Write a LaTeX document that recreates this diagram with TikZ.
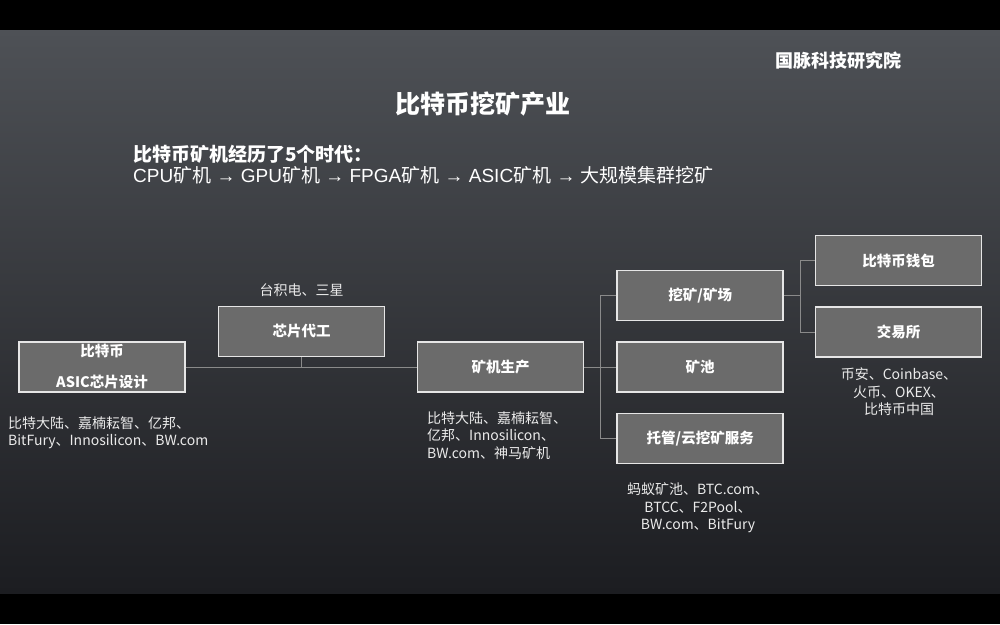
\documentclass[tikz,border=0pt]{standalone}
\usepackage{fontspec}
\setmainfont{Noto Sans CJK SC}
\newfontfamily\latinfont{Liberation Sans}
\newcommand{\lat}[1]{{\latinfont #1}}
\usetikzlibrary{positioning,calc}
\definecolor{bgtop}{HTML}{4E5156}
\definecolor{bgbot}{HTML}{1C1D21}
\definecolor{boxfill}{HTML}{6B6B6B}
\definecolor{boxline}{HTML}{E6E6E6}
\definecolor{linkgray}{HTML}{8A8A8A}

\begin{document}
\begin{tikzpicture}[x=1pt, y=-1pt,
  stage/.style={draw=boxline, line width=1.6pt, fill=boxfill, minimum width=166pt, minimum height=50pt, font=\bfseries\fontsize{14.5}{17}\selectfont, text=white, align=center},
  note/.style={font=\fontsize{14}{17.5}\selectfont, text=white!92!black, inner sep=0pt},
  link/.style={draw=linkgray, line width=0.9pt},
]
  \useasboundingbox (0,0) rectangle (1000,624);
  % background
  \fill[black] (0,0) rectangle (1000,624);
  \shade[top color=bgtop, bottom color=bgbot] (0,30) rectangle (1000,593);

  % headings
  \node[font=\bfseries\fontsize{18}{22}\selectfont, text=white] (inst) at (838,61) {国脉科技研究院};
  \node[font=\bfseries\fontsize{25}{30}\selectfont, text=white] (title) at (483,104) {比特币挖矿产业};
  \node[anchor=west, inner sep=0pt, font=\bfseries\fontsize{19}{22}\selectfont, text=white] (era) at (133,154) {比特币矿机经历了5个时代：};
  \node[anchor=west, inner sep=0pt, font=\fontsize{19}{22}\selectfont, text=white] (eras) at (133,175)
    {\lat{CPU}矿机\lat{ → GPU}矿机\lat{ → FPGA}矿机\lat{ → ASIC}矿机\lat{ → }大规模集群挖矿};

  % chain
  \node[stage, inner sep=1pt] (design) at (102,367) {比特币\\[14pt]ASIC芯片设计};
  \node[stage] (foundry) at (301.5,331.5) {芯片代工};
  \node[stage, right=231pt of design.east, anchor=west] (machine) {矿机生产};
  \node[stage, right=32pt of machine] (pool) {矿池};
  \node[stage, above=20pt of pool] (farm) {挖矿/矿场};
  \node[stage, below=20pt of pool] (hosting) {托管/云挖矿服务};
  \node[stage] (wallet) at (898.5,260.5) {比特币钱包};
  \node[stage, below=20pt of wallet] (exchange) {交易所};

  % links
  \coordinate (split) at ($(machine.east)!0.5!(pool.west)$);
  \coordinate (split2) at ($(farm.east)+(16pt,0)$);
  \draw[link] (design) -- (machine);
  \draw[link] (foundry) -- (foundry |- design.east);
  \draw[link] (machine) -- (pool);
  \draw[link] (farm.west) -| (split) |- (hosting.west);
  \draw[link] (farm) -- (split2);
  \draw[link] (wallet.west) -| (split2) |- (exchange.west);

  % company notes
  \node[note, above=9pt of foundry] (foundrynote) {台积电、三星};
  \node[note, anchor=north west, align=left] (designnote) at (8,416) {比特大陆、嘉楠耘智、亿邦、\\BitFury、Innosilicon、BW.com};
  \node[note, anchor=north west, align=left] (machinenote) at (427,411) {比特大陆、嘉楠耘智、\\亿邦、Innosilicon、\\BW.com、神马矿机};
  \node[note, align=center] (hostingnote) at (698,508) {蚂蚁矿池、BTC.com、\\BTCC、F2Pool、\\BW.com、BitFury};
  \node[note, align=center] (exchangenote) at (899,392) {币安、Coinbase、\\火币、OKEX、\\比特币中国};
\end{tikzpicture}
\end{document}
